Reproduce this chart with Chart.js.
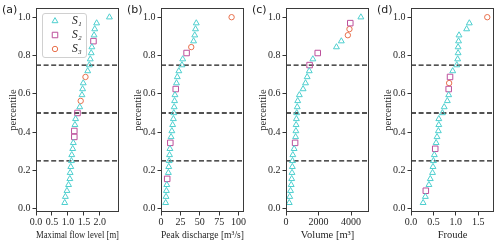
<!DOCTYPE html>
<html>
<head>
<meta charset="utf-8">
<script src="https://cdn.jsdelivr.net/npm/chart.js@4/dist/chart.umd.min.js"></script>
<style>
  body { margin: 0; background: #fff; }
  #wrap { position: relative; width: 500px; height: 243px; }
  .panel { position: absolute; top: 0; width: 125px; height: 243px; }
  .tag { position: absolute; top: 3px; left: 2px; font: 11px "DejaVu Sans", sans-serif; color: #222; }
</style>
</head>
<body>
<div id="wrap">
  <div class="panel" style="left:0px"><canvas id="pa"></canvas><div class="tag">(a)</div></div>
  <div class="panel" style="left:125px"><canvas id="pb"></canvas><div class="tag">(b)</div></div>
  <div class="panel" style="left:250px"><canvas id="pc"></canvas><div class="tag">(c)</div></div>
  <div class="panel" style="left:375px"><canvas id="pd"></canvas><div class="tag">(d)</div></div>
</div>
<script>
// empirical percentiles (32 events)
const percentile = [0.031, 0.063, 0.094, 0.125, 0.156, 0.188, 0.219, 0.25,
  0.281, 0.313, 0.344, 0.375, 0.406, 0.438, 0.469, 0.5,
  0.531, 0.563, 0.594, 0.625, 0.656, 0.688, 0.719, 0.75,
  0.781, 0.813, 0.844, 0.875, 0.906, 0.938, 0.969, 1.0];
const yTicks = [0, 0.2, 0.4, 0.6, 0.8, 1.0];
const quartiles = [0.25, 0.5, 0.75];
const seriesNames = ['S\u2081', 'S\u2082', 'S\u2083'];

// (a) maximal flow level
const flowLevel = [0.9, 0.92, 0.97, 1.02, 1.06, 1.07, 1.09, 1.11, 1.12, 1.15, 1.17, 1.2, 1.2, 1.22, 1.24, 1.3,
  1.37, 1.4, 1.44, 1.46, 1.48, 1.55, 1.62, 1.67, 1.7, 1.73, 1.75, 1.8, 1.82, 1.84, 1.9, 2.3];
const flowGroup = [1,1,1,1,1,1,1,1,1,1,1,2,2,1,1,2,1,3,1,1,1,3,1,1,1,1,1,2,1,1,1,1];
const flowTicks = [0, 0.5, 1.0, 1.5, 2.0];

// (b) peak discharge
const discharge = [6, 6.5, 7, 7.5, 8, 9.5, 10, 10.5, 11, 11.5, 12, 13, 14, 15, 16, 16.5,
  17, 17.5, 18, 19, 20, 21, 23, 27, 28, 33, 39, 42, 43.5, 44.5, 45.5, 91];
const dischargeGroup = [1,1,1,1,2,1,1,1,1,1,2,1,1,1,1,1,1,1,1,2,1,1,1,1,1,2,3,1,1,1,1,3];
const dischargeTicks = [0, 25, 50, 75, 100];

// (c) volume
const volume = [200, 230, 280, 320, 350, 370, 390, 400, 420, 500, 560, 590, 610, 620, 640, 660,
  690, 720, 820, 1050, 1200, 1300, 1430, 1450, 1650, 1950, 3100, 3400, 3800, 3900, 3950, 4600];
const volumeGroup = [1,1,1,1,1,1,1,1,1,1,2,1,1,1,1,1,1,1,1,1,1,1,1,2,1,2,1,1,3,3,2,1];
const volumeTicks = [0, 2000, 4000];

// (d) Froude
const froude = [0.27, 0.32, 0.33, 0.4, 0.43, 0.48, 0.49, 0.5, 0.52, 0.54, 0.56, 0.58, 0.61, 0.62, 0.62, 0.7,
  0.74, 0.81, 0.84, 0.84, 0.85, 0.87, 0.93, 1.02, 1.04, 1.05, 1.05, 1.06, 1.07, 1.24, 1.3, 1.7];
const froudeGroup = [1,1,2,1,1,1,1,1,1,2,1,1,1,1,1,1,1,1,1,2,3,2,1,1,1,1,1,1,1,1,1,3];
const froudeTicks = [0, 0.5, 1.0, 1.5];

const STYLES = [
  {pointStyle: 'triangle', color: '#4ecfcf', radius: 3.4},
  {pointStyle: 'rect', color: '#bc4f9b', radius: 3.9},
  {pointStyle: 'circle', color: '#e8704c', radius: 2.7}
];
const SERIF = "'Liberation Serif', 'DejaVu Serif', serif";

function drawMarker(ctx, style, x, y) {
  const r = style.radius;
  ctx.beginPath();
  if (style.pointStyle === 'triangle') {
    for (let k = 0; k < 3; k++) {
      const a = k * 2 * Math.PI / 3;
      const px = x + Math.sin(a) * r, py = y - Math.cos(a) * r;
      k ? ctx.lineTo(px, py) : ctx.moveTo(px, py);
    }
    ctx.closePath();
  } else if (style.pointStyle === 'rect') {
    const s = Math.SQRT1_2 * r;
    ctx.rect(x - s, y - s, 2 * s, 2 * s);
  } else {
    ctx.arc(x, y, r, 0, 2 * Math.PI);
  }
  ctx.strokeStyle = style.color;
  ctx.lineWidth = 1;
  ctx.stroke();
}

// full box around the axes + optional legend
const framePlugin = {
  id: 'frame',
  afterDraw(chart, args, opts) {
    const {ctx, chartArea: a} = chart;
    ctx.save();
    ctx.strokeStyle = '#3a3a3a';
    ctx.lineWidth = 1;
    ctx.strokeRect(Math.round(a.left) + 0.5, Math.round(a.top) + 0.5,
      Math.round(a.right - a.left) - 1, Math.round(a.bottom - a.top) - 1);
    if (opts.legend) {
      const x0 = a.left + 6, y0 = a.top + 5, w = 44, h = 44;
      ctx.beginPath();
      ctx.roundRect(x0 + 0.5, y0 + 0.5, w, h, 2.5);
      ctx.fillStyle = 'rgba(255,255,255,0.85)';
      ctx.fill();
      ctx.strokeStyle = '#d0d0d0';
      ctx.stroke();
      ctx.font = 'italic 11.5px ' + SERIF;
      ctx.textBaseline = 'middle';
      ctx.fillStyle = '#222';
      seriesNames.forEach((name, i) => {
        const yy = y0 + 8 + i * 14;
        drawMarker(ctx, STYLES[i], x0 + 13, yy);
        ctx.fillText(name, x0 + 30, yy);
      });
    }
    ctx.restore();
  }
};

function makePanel(id, values, groups, xTicks, xMax, decimals, xTitle, legend) {
  const datasets = STYLES.map((st, g) => ({
    label: seriesNames[g],
    data: values.map((v, i) => ({x: v, y: percentile[i]})).filter((p, i) => groups[i] === g + 1),
    pointStyle: st.pointStyle,
    pointRadius: st.radius,
    pointBorderWidth: 1,
    borderColor: st.color,
    backgroundColor: 'rgba(0,0,0,0)'
  }));
  quartiles.forEach(q => datasets.push({
    type: 'line',
    data: [{x: 0, y: q}, {x: xMax, y: q}],
    borderColor: '#1a1a1a',
    borderWidth: 1.4,
    borderDash: [5, 2.6],
    pointRadius: 0,
    fill: false
  }));

  new Chart(document.getElementById(id), {
    type: 'scatter',
    data: {datasets},
    plugins: [framePlugin],
    options: {
      responsive: true,
      maintainAspectRatio: false,
      animation: false,
      layout: {padding: {left: 0, right: 6, top: 5, bottom: 0}},
      plugins: {
        legend: {display: false},
        tooltip: {enabled: false},
        frame: {legend: legend}
      },
      scales: {
        x: {
          type: 'linear',
          min: 0,
          max: xMax,
          afterFit(scale) { scale.height = 31; },
          afterBuildTicks(scale) { scale.ticks = xTicks.map(v => ({value: v})); },
          border: {display: false},
          grid: {display: true, drawOnChartArea: false, drawTicks: true, tickLength: 3.5, color: '#333'},
          ticks: {
            autoSkip: false, maxRotation: 0, padding: 1, color: '#262626',
            font: {family: SERIF, size: 10},
            callback: v => Number(v).toFixed(decimals)
          },
          title: {display: true, text: xTitle, color: '#262626', font: {family: SERIF, size: 10.5}, padding: {top: 1, bottom: 1}}
        },
        y: {
          type: 'linear',
          min: -0.017,
          max: 1.048,
          afterFit(scale) { scale.width = 36; },
          afterBuildTicks(scale) { scale.ticks = yTicks.map(v => ({value: v})); },
          border: {display: false},
          grid: {display: true, drawOnChartArea: false, drawTicks: true, tickLength: 3.5, color: '#333'},
          ticks: {
            padding: 2, color: '#262626',
            font: {family: SERIF, size: 10},
            callback: v => Number(v).toFixed(1)
          },
          title: {display: true, text: 'percentile', color: '#262626', font: {family: SERIF, size: 10.5}, padding: {top: 7, bottom: 7}}
        }
      }
    }
  });
}

makePanel('pa', flowLevel, flowGroup, flowTicks, 2.6, 1, 'Maximal flow level [m]', true);
makePanel('pb', discharge, dischargeGroup, dischargeTicks, 107, 0, 'Peak discharge [m\u00b3/s]', false);
makePanel('pc', volume, volumeGroup, volumeTicks, 5100, 0, 'Volume [m\u00b3]', false);
makePanel('pd', froude, froudeGroup, froudeTicks, 1.85, 1, 'Froude', false);
</script>
</body>
</html>
